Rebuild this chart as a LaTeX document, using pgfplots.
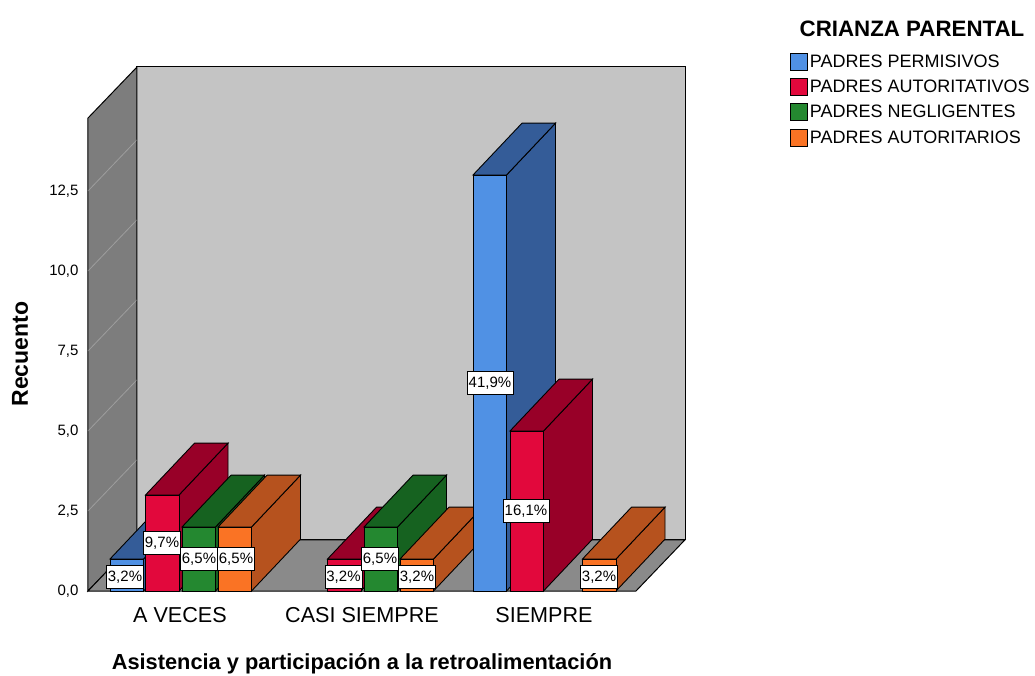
\documentclass[border=0pt]{standalone}
\usepackage{pgfplots}
\pgfplotsset{compat=1.18}
\usepackage{fontspec}
\setmainfont{Liberation Sans}
\definecolor{wallback}{RGB}{196,196,196}
\definecolor{wallleft}{RGB}{125,125,125}
\definecolor{wallfloor}{RGB}{138,138,138}
\definecolor{bluef}{RGB}{80,145,228}
\definecolor{blues}{RGB}{52,92,152}
\definecolor{redf}{RGB}{226,8,60}
\definecolor{reds}{RGB}{152,0,40}
\definecolor{greenf}{RGB}{36,136,48}
\definecolor{greens}{RGB}{22,98,32}
\definecolor{orangef}{RGB}{250,115,36}
\definecolor{oranges}{RGB}{182,82,30}
% x = left edge of the bar's front (px), #2 = count, #3 front colour, #4 side colour
\newcommand{\threedbar}[4]{%
  \pgfmathsetmacro\xl{#1}%
  \pgfmathsetmacro\xr{#1+33.5}%
  \pgfmathsetmacro\xlb{#1+49}%
  \pgfmathsetmacro\xrb{#1+82.5}%
  \pgfmathsetmacro\yt{#2}%
  \pgfmathsetmacro\ytb{#2+1.62}%
  \addplot[forget plot,fill=#4,draw=black,line width=0.9pt] coordinates {(\xr,0)(\xrb,1.62)(\xrb,\ytb)(\xr,\yt)} -- cycle;
  \addplot[forget plot,fill=#4,draw=black,line width=0.9pt] coordinates {(\xl,\yt)(\xr,\yt)(\xrb,\ytb)(\xlb,\ytb)} -- cycle;
  \addplot[forget plot,fill=#3,draw=black,line width=0.9pt] coordinates {(\xl,0)(\xr,0)(\xr,\yt)(\xl,\yt)} -- cycle;
}
\pgfplotsset{swatch/.style={legend image code/.code={\draw[fill=#1,draw=black,line width=0.9pt] (0pt,-8.5pt) rectangle (17pt,8.5pt);}}}
\begin{document}
\begin{tikzpicture}
\useasboundingbox (-88pt,-84pt) rectangle (947pt,591pt);
\begin{axis}[
  scale only axis,
  width=548pt,height=473pt,
  xmin=88,xmax=636,ymin=0,ymax=14.78125,
  clip=false,
  axis line style={draw=none},
  major tick length=0pt,
  xtick={180,362,544},
  xticklabels={A VECES,CASI SIEMPRE,SIEMPRE},
  ytick={0,2.5,5,7.5,10,12.5},
  /pgf/number format/assume math mode=true,
  /pgf/number format/use comma,
  /pgf/number format/fixed,
  /pgf/number format/fixed zerofill,
  /pgf/number format/precision=1,
  yticklabel style={font=\fontsize{15}{17}\selectfont,xshift=-6pt},
  xticklabel style={font=\fontsize{21.6}{25}\selectfont,yshift=-13pt},
  xlabel={Asistencia y participación a la retroalimentación},
  ylabel={Recuento},
  x label style={at={(axis cs:362,-2.28)},anchor=center,font=\bfseries\fontsize{21.8}{25}\selectfont},
  y label style={at={(axis cs:20,7.4)},anchor=center,font=\bfseries\fontsize{23}{26}\selectfont},
  legend style={at={(axis cs:790,16.83)},anchor=north west,draw=none,fill=none,inner sep=0pt,outer sep=0pt,
    font=\fontsize{18}{20}\selectfont,row sep=7.3pt,
    /tikz/every even column/.append style={column sep=7pt}},
  legend cell align=left,
]
% walls
\addplot[forget plot,fill=wallback,draw=black,line width=1pt] coordinates {(137,1.6)(685,1.6)(685,16.375)(137,16.375)} -- cycle;
\addplot[forget plot,fill=wallleft,draw=black,line width=1pt] coordinates {(88,0)(137,1.6)(137,16.375)(88,14.78)} -- cycle;
\addplot[forget plot,fill=wallfloor,draw=black,line width=1pt] coordinates {(88,0)(636,0)(685,1.6)(137,1.6)} -- cycle;
% grid lines on the left wall
\addplot[forget plot,white,opacity=0.25,line width=0.8pt] coordinates {(88,2.5)(137,4.1)};
\addplot[forget plot,white,opacity=0.25,line width=0.8pt] coordinates {(88,5)(137,6.6)};
\addplot[forget plot,white,opacity=0.25,line width=0.8pt] coordinates {(88,7.5)(137,9.1)};
\addplot[forget plot,white,opacity=0.25,line width=0.8pt] coordinates {(88,10)(137,11.6)};
\addplot[forget plot,white,opacity=0.25,line width=0.8pt] coordinates {(88,12.5)(137,14.1)};
% A VECES
\threedbar{110}{1}{bluef}{blues}
\threedbar{145.5}{3}{redf}{reds}
\threedbar{182}{2}{greenf}{greens}
\threedbar{218}{2}{orangef}{oranges}
% CASI SIEMPRE
\threedbar{327.5}{1}{redf}{reds}
\threedbar{364}{2}{greenf}{greens}
\threedbar{400}{1}{orangef}{oranges}
% SIEMPRE
\threedbar{473}{13}{bluef}{blues}
\threedbar{510}{5}{redf}{reds}
\threedbar{582.5}{1}{orangef}{oranges}
% percentage labels
\addplot[forget plot,draw=none,
  nodes near coords,point meta=explicit symbolic,
  every node near coord/.style={anchor=center,fill=white,draw=black,line width=0.5pt,
    font=\fontsize{15}{17}\selectfont,inner xsep=1.5pt,inner ysep=5pt,text height=11pt,text depth=2pt}]
  coordinates {
  (125,0.45)[3,2\%] (162,1.5)[9,7\%] (199,1)[6,5\%] (236,1)[6,5\%]
  (343.5,0.45)[3,2\%] (380,1)[6,5\%] (417,0.45)[3,2\%]
  (490,6.5)[41,9\%] (526,2.5)[16,1\%] (599,0.45)[3,2\%]};
\addlegendimage{swatch=bluef}
\addlegendentry{PADRES PERMISIVOS}
\addlegendimage{swatch=redf}
\addlegendentry{PADRES AUTORITATIVOS}
\addlegendimage{swatch=greenf}
\addlegendentry{PADRES NEGLIGENTES}
\addlegendimage{swatch=orangef}
\addlegendentry{PADRES AUTORITARIOS}
\node[anchor=center,font=\bfseries\fontsize{22.3}{25}\selectfont] at (axis cs:912,17.56) {CRIANZA PARENTAL};
\end{axis}
\end{tikzpicture}
\end{document}
